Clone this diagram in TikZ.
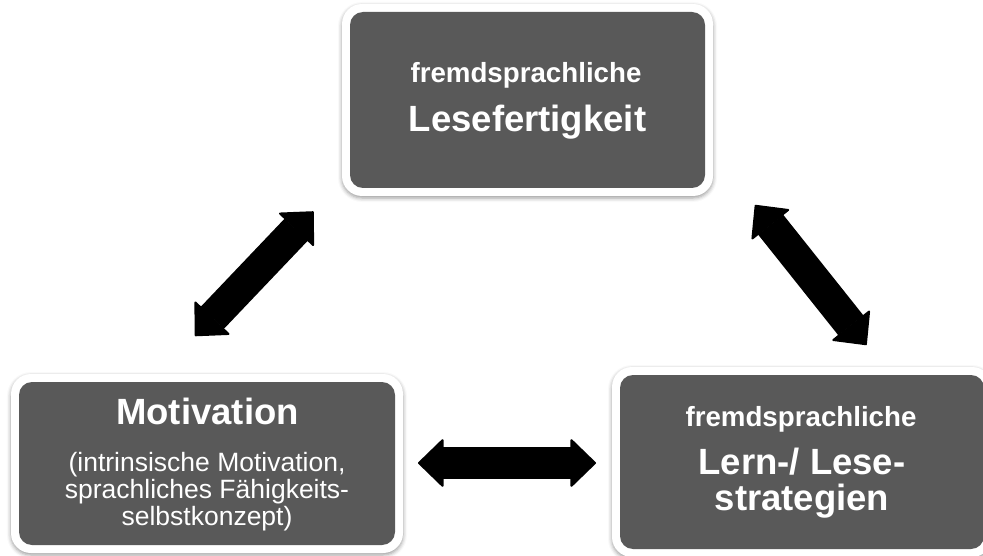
\documentclass[tikz,border=0pt]{standalone}
\usepackage{fontspec}
\setmainfont{Liberation Sans}
\usetikzlibrary{arrows.meta,shadows.blur}
\definecolor{boxgray}{HTML}{595959}

\tikzset{
  box/.style={rectangle, rounded corners=20pt, fill=white, inner sep=0pt,
    blur shadow={shadow xshift=0pt, shadow yshift=-2pt, shadow blur radius=4pt, shadow opacity=40},
    path picture={\fill[boxgray, rounded corners=13pt]
      ([shift={(8pt,8pt)}]path picture bounding box.south west) rectangle
      ([shift={(-8pt,-8pt)}]path picture bounding box.north east);}},
  head/.style={text=white, font=\bfseries\fontsize{36.5}{38}\selectfont, anchor=base, inner sep=0pt},
  sub/.style={text=white, font=\bfseries\fontsize{27.7}{30}\selectfont, anchor=base, inner sep=0pt},
  note/.style={text=white, font=\fontsize{26.5}{26}\selectfont, anchor=base, inner sep=0pt},
  tip/.tip={Triangle[width=50pt,length=26pt,line width=2pt,round]},
  biarrow/.style={line width=32pt, draw=black, fill=black, tip-tip}
}

\begin{document}
\begin{tikzpicture}[x=1pt,y=-1pt]
  \useasboundingbox (0,0) rectangle (983,556);

  % the three boxes
  \node[box, minimum width=371pt, minimum height=192pt] (lesen) at (527.5,100) {};
  \node[box, minimum width=392pt, minimum height=179pt] (motiv) at (207,463.5) {};
  \node[box, minimum width=380pt, minimum height=190pt] (strat) at (802,462) {};

  % box texts
  \node[sub]  (lesenA) at (526,83)    {fremdsprachliche};
  \node[head] (lesenB) at (527.5,131.5) {Lesefertigkeit};

  \node[head] (motivA) at (207.5,424) {Motivation};
  \node[note] (motivB) at (207,471)   {(intrinsische Motivation,};
  \node[note] (motivC) at (207,498)   {sprachliches Fähigkeits-};
  \node[note] (motivD) at (207,525)   {selbstkonzept)};

  \node[sub]  (stratA) at (801,426.5) {fremdsprachliche};
  \node[head] (stratB) at (802,474)   {Lern-/ Lese-};
  \node[head] (stratC) at (802,510)   {strategien};

  % double arrows between the boxes
  \coordinate (h1) at (418,463);   \coordinate (h2) at (596,463);
  \coordinate (l1) at (195,336);   \coordinate (l2) at (313.5,211.5);
  \coordinate (r1) at (755,205);   \coordinate (r2) at (866.5,345);

  \draw[biarrow] (h1) -- (h2);
  \draw[biarrow] (l1) -- (l2);
  \draw[biarrow] (r1) -- (r2);
\end{tikzpicture}
\end{document}
